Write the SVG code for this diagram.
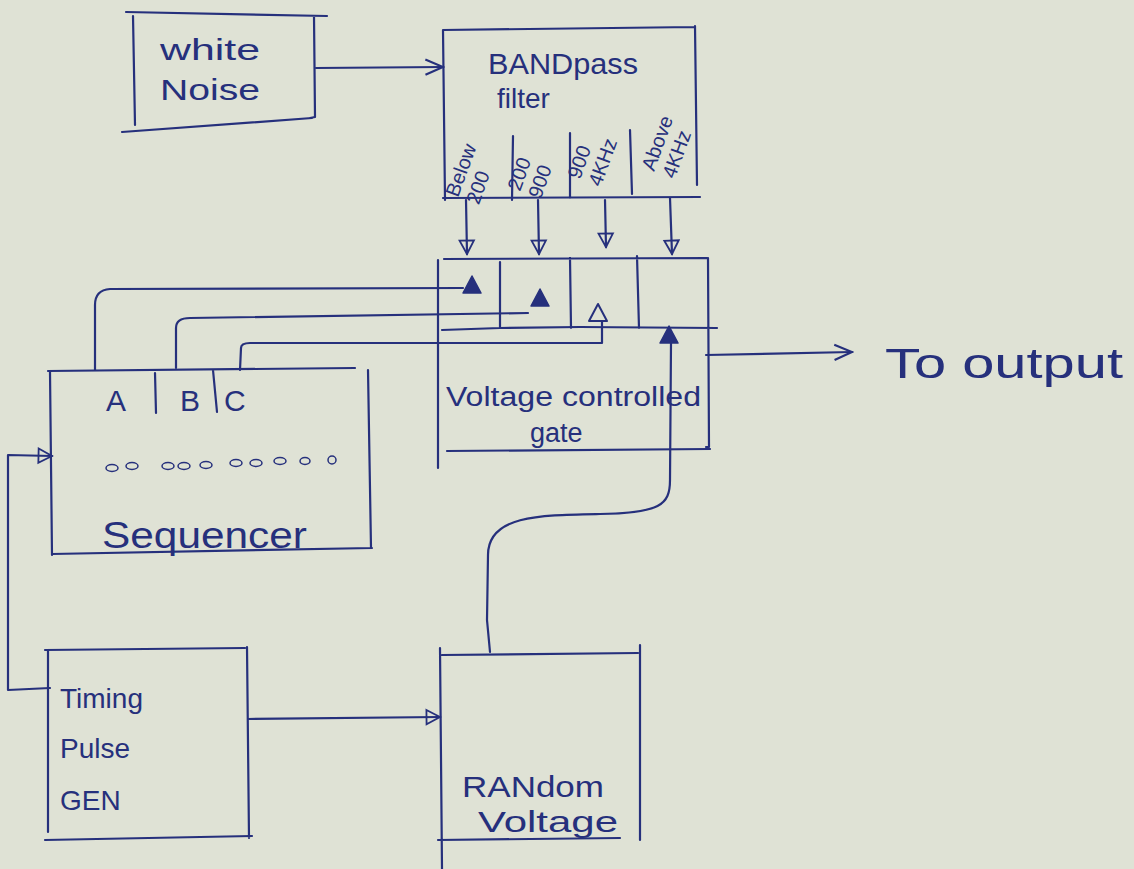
<svg xmlns="http://www.w3.org/2000/svg" width="1134" height="869" viewBox="0 0 1134 869">
<defs>
<style>
.ink{fill:none;stroke:#26307c;stroke-width:2.2;stroke-linecap:round;stroke-linejoin:round}
.t{fill:#26307c;font-family:"Liberation Sans","DejaVu Sans",sans-serif}
.tri{fill:#26307c;stroke:#26307c;stroke-width:1.5;stroke-linejoin:round}
.otri{fill:none;stroke:#26307c;stroke-width:2;stroke-linejoin:round}
</style>
<marker id="chev" viewBox="0 0 20 20" refX="18" refY="10" markerWidth="22" markerHeight="22" markerUnits="userSpaceOnUse" orient="auto">
<path d="M2,3 L18,10 L2,17" fill="none" stroke="#26307c" stroke-width="2"/>
</marker>
<marker id="otri" viewBox="0 0 20 20" refX="18" refY="10" markerWidth="18" markerHeight="18" markerUnits="userSpaceOnUse" orient="auto">
<path d="M3,2 L18,10 L3,18 Z" fill="none" stroke="#26307c" stroke-width="2"/>
</marker>
<polygon id="up" points="0,-10 9,7 -9,7"/>
</defs>
<rect width="1134" height="869" fill="#dfe2d5"/>

<g id="white-noise">
<path class="ink" d="M126,12 L327,16 M133,16 L135,125 M314,16 L315,117 L310,118 M122,132 L312,118"/>
<text class="t" x="160" y="60" font-size="30" textLength="100" lengthAdjust="spacingAndGlyphs">white</text>
<text class="t" x="160" y="100" font-size="30" textLength="100" lengthAdjust="spacingAndGlyphs">Noise</text>
</g>

<g id="bandpass-filter">
<path class="ink" d="M443,30 L695,27 M443,30 L445,200 M695,26 L697,185 M443,198 L700,197 M513,136 L512,200 M570,133 L570,198 M630,130 L632,194"/>
<text class="t" x="488" y="74" font-size="30" textLength="150" lengthAdjust="spacingAndGlyphs">BANDpass</text>
<text class="t" x="497" y="108" font-size="28">filter</text>
<text class="t" font-size="20" transform="translate(458,198) rotate(-70)">Below<tspan x="0" dy="22">200</tspan></text>
<text class="t" font-size="20" transform="translate(520,192) rotate(-70)">200<tspan x="0" dy="22">900</tspan></text>
<text class="t" font-size="20" transform="translate(580,180) rotate(-70)">900<tspan x="0" dy="22">4KHz</tspan></text>
<text class="t" font-size="20" transform="translate(654,172) rotate(-70)">Above<tspan x="0" dy="22">4KHz</tspan></text>
</g>

<g id="voltage-controlled-gate">
<path class="ink" d="M444,259 L707,258 M438,260 L438,468 M708,258 L709,447 L706,447 M447,451 L710,449 M442,330 L500,328 L580,327 L717,328 M500,262 L500,328 M570,258 L571,328 M637,256 L639,328"/>
<use href="#up" class="tri" x="472" y="286"/>
<use href="#up" class="tri" x="540" y="299"/>
<use href="#up" class="otri" x="598" y="314"/>
<use href="#up" class="tri" x="669" y="336"/>
<text class="t" x="446" y="406" font-size="27" textLength="255" lengthAdjust="spacingAndGlyphs">Voltage controlled</text>
<text class="t" x="530" y="442" font-size="27">gate</text>
</g>

<g id="sequencer">
<path class="ink" d="M48,371 L355,368 M50,372 L52,555 M368,370 L371,548 M52,554 L372,548 M155,373 L156,413 M213,370 L217,412"/>
<text class="t" x="106" y="411" font-size="30">A</text>
<text class="t" x="180" y="411" font-size="30">B</text>
<text class="t" x="224" y="411" font-size="30">C</text>
<g fill="none" stroke="#26307c" stroke-width="1.5">
<ellipse cx="112" cy="468" rx="6" ry="3.5"/><ellipse cx="132" cy="466" rx="6" ry="3.5"/>
<ellipse cx="168" cy="466" rx="6" ry="3.5"/><ellipse cx="184" cy="466" rx="6" ry="3.5"/>
<ellipse cx="206" cy="465" rx="6" ry="3.5"/><ellipse cx="236" cy="463" rx="6" ry="3.5"/>
<ellipse cx="256" cy="463" rx="6" ry="3.5"/><ellipse cx="280" cy="461" rx="6" ry="3.5"/>
<ellipse cx="305" cy="461" rx="5" ry="3.5"/><ellipse cx="332" cy="460" rx="4" ry="4"/>
</g>
<text class="t" x="102" y="548" font-size="36" textLength="205" lengthAdjust="spacingAndGlyphs">Sequencer</text>
</g>

<g id="timing-pulse-gen">
<path class="ink" d="M45,650 L245,648 M48,650 L48,832 M247,647 L249,838 M45,840 L252,836"/>
<text class="t" x="60" y="708" font-size="28">Timing</text>
<text class="t" x="60" y="758" font-size="28">Pulse</text>
<text class="t" x="60" y="810" font-size="28">GEN</text>
</g>

<g id="random-voltage">
<path class="ink" d="M442,655 L638,653 M440,648 L442,869 M640,645 L640,840 M438,840 L620,838"/>
<text class="t" x="462" y="797" font-size="30" textLength="142" lengthAdjust="spacingAndGlyphs">RANdom</text>
<text class="t" x="478" y="832" font-size="30" textLength="140" lengthAdjust="spacingAndGlyphs">Voltage</text>
</g>

<g id="connectors">
<path class="ink" marker-end="url(#chev)" d="M316,68 L443,67"/>
<path class="ink" marker-end="url(#otri)" d="M466,200 L467,254"/>
<path class="ink" marker-end="url(#otri)" d="M538,200 L539,254"/>
<path class="ink" marker-end="url(#otri)" d="M605,200 L606,247"/>
<path class="ink" marker-end="url(#otri)" d="M670,198 L672,254"/>
<path class="ink" d="M95,370 L95,305 Q95,290 110,289 L463,288"/>
<path class="ink" d="M176,368 L176,328 Q176,318 190,318 L528,313"/>
<path class="ink" d="M240,370 L241,348 Q241,343 250,343 L602,343 L602,322"/>
<path class="ink" d="M490,652 L487,620 L488,555 C488,515 540,515 600,514 C660,513 670,505 670,480 L671,343"/>
<path class="ink" marker-end="url(#chev)" d="M706,355 L852,352"/>
<path class="ink" marker-end="url(#otri)" d="M50,688 L8,690 L8,455 L52,456"/>
<path class="ink" marker-end="url(#otri)" d="M248,719 L440,717"/>
</g>
<text class="t" x="885" y="378" font-size="42" textLength="238" lengthAdjust="spacingAndGlyphs">To  output</text>
</svg>
